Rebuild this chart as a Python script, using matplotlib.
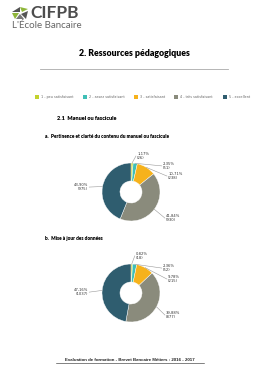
import matplotlib
matplotlib.use("Agg")
import matplotlib.pyplot as plt
from matplotlib.patches import Rectangle, Polygon
from matplotlib.lines import Line2D
import numpy as np

W, H = 268, 380

# ---- data ----
categories = ["1 - peu satisfaisant", "2 - assez satisfaisant", "3 - satisfaisant",
              "4 - très satisfaisant", "5 - excellent"]
colors = ["#c3d22e", "#3fbfb6", "#f6b21c", "#8a8b7c", "#2f5d6f"]

pct_a = [1.17, 2.35, 10.71, 41.84, 43.90]
cnt_a = [26, 51, 238, 930, 975]
pct_b = [0.82, 2.36, 9.78, 39.88, 47.16]
cnt_b = [18, 52, 215, 877, 1037]

title = "2. Ressources pédagogiques"
section = "2.1  Manuel ou fascicule"
sub_a = "a.  Pertinence et clarté du contenu du manuel ou fascicule"
sub_b = "b.  Mise à jour des données"
footer = "Evaluation de formation - Brevet Bancaire Métiers : 2016 - 2017"


def fx(x):
    return x / W


def fy(y):
    return 1 - y / H


fig = plt.figure(figsize=(W / 100, H / 100), dpi=100)
fig.patch.set_facecolor("white")

# ---- logo ----
icon = [
    [(12, 12), (20, 7), (20, 12)],
    [(20, 7), (28, 9), (22, 12)],
    [(12, 13), (19, 13), (15, 19)],
    [(21, 14), (28, 11), (26, 19)],
    [(16, 19), (20, 14), (24, 19)],
]
icon_cols = ["#555555", "#8fb63a", "#8fb63a", "#555555", "#777777"]
for pts, c in zip(icon, icon_cols):
    fig.patches.append(Polygon([(fx(x), fy(y)) for x, y in pts], closed=True,
                               transform=fig.transFigure, facecolor=c, edgecolor="none"))
fig.text(fx(30), fy(13.5), "CIFPB", family="Lato", weight="bold", fontsize=12.5,
         color="#4d4d4d", va="center", ha="left")
fig.text(fx(11.5), fy(26), "L'École Bancaire", family="Lato", fontsize=7,
         color="#666666", va="center", ha="left")

# ---- title ----
fig.text(fx(134), fy(53), title, family="Lato", weight="heavy", fontsize=6.3,
         color="#000000", ha="center", va="center")
fig.lines.append(Line2D([fx(40), fx(228)], [fy(69), fy(69)], transform=fig.transFigure,
                        color="#aaaaaa", lw=0.6))

# ---- legend ----
leg_x = [35, 83, 134, 174, 223]
for x, lab, c in zip(leg_x, categories, colors):
    fig.patches.append(Rectangle((fx(x), fy(99)), 4 / W, 4 / H, transform=fig.transFigure,
                                 facecolor=c, edgecolor="none"))
    fig.text(fx(x + 6), fy(97), lab, fontsize=2.4, color="#666666", va="center", ha="left")

# ---- headings ----
fig.text(fx(57), fy(119), section, family="Lato", weight="heavy", fontsize=4.0,
         color="#000000", va="center")
fig.text(fx(45), fy(137), sub_a, family="Lato", weight="heavy", fontsize=3.4,
         color="#000000", va="center")
fig.text(fx(45), fy(239), sub_b, family="Lato", weight="heavy", fontsize=3.4,
         color="#000000", va="center")


def donut(cy, pct, cnt, label_pos):
    cx, r = 131, 29
    ax = fig.add_axes([fx(30), fy(cy + 50), 200 / W, 100 / H])
    ax.axis("off")
    wedges, _ = ax.pie(pct, colors=colors, startangle=90, counterclock=False,
                       radius=1, wedgeprops=dict(width=0.62, edgecolor="white", linewidth=0.3))
    ax.set_aspect("auto")
    ax.set_xlim((30 - cx) / r, (230 - cx) / r)
    ax.set_ylim(-50 / r, 50 / r)
    for w, p, n, (tx, ty, ha) in zip(wedges, pct, cnt, label_pos):
        ang = np.deg2rad((w.theta1 + w.theta2) / 2)
        px, py = np.cos(ang), np.sin(ang)
        lx = tx - 0.04 if ha == "left" else tx + 0.04
        ax.plot([px, lx], [py, ty], color="#999999", lw=0.4)
        txt = f"{p:.2f}%".replace(".", ",") + f"\n({n})"
        ax.text(tx, ty, txt, fontsize=2.7, color="#333333", ha=ha, va="center",
                linespacing=1.1)


donut(192, pct_a, cnt_a, [(0.21, 1.24, "left"), (1.10, 0.90, "left"), (1.28, 0.55, "left"),
                          (1.21, -0.90, "left"), (-1.48, 0.17, "right")])
donut(293, pct_b, cnt_b, [(0.17, 1.28, "left"), (1.10, 0.86, "left"), (1.28, 0.48, "left"),
                          (1.21, -0.76, "left"), (-1.48, 0.03, "right")])

# ---- footer ----
fig.text(fx(130), fy(360), footer, family="Liberation Sans", weight="bold", fontsize=3.2,
         color="#222222", ha="center", va="center")
fig.lines.append(Line2D([fx(56), fx(204)], [fy(362.5), fy(362.5)], transform=fig.transFigure,
                        color="#222222", lw=0.4))

fig.savefig("out.png", dpi=100)
